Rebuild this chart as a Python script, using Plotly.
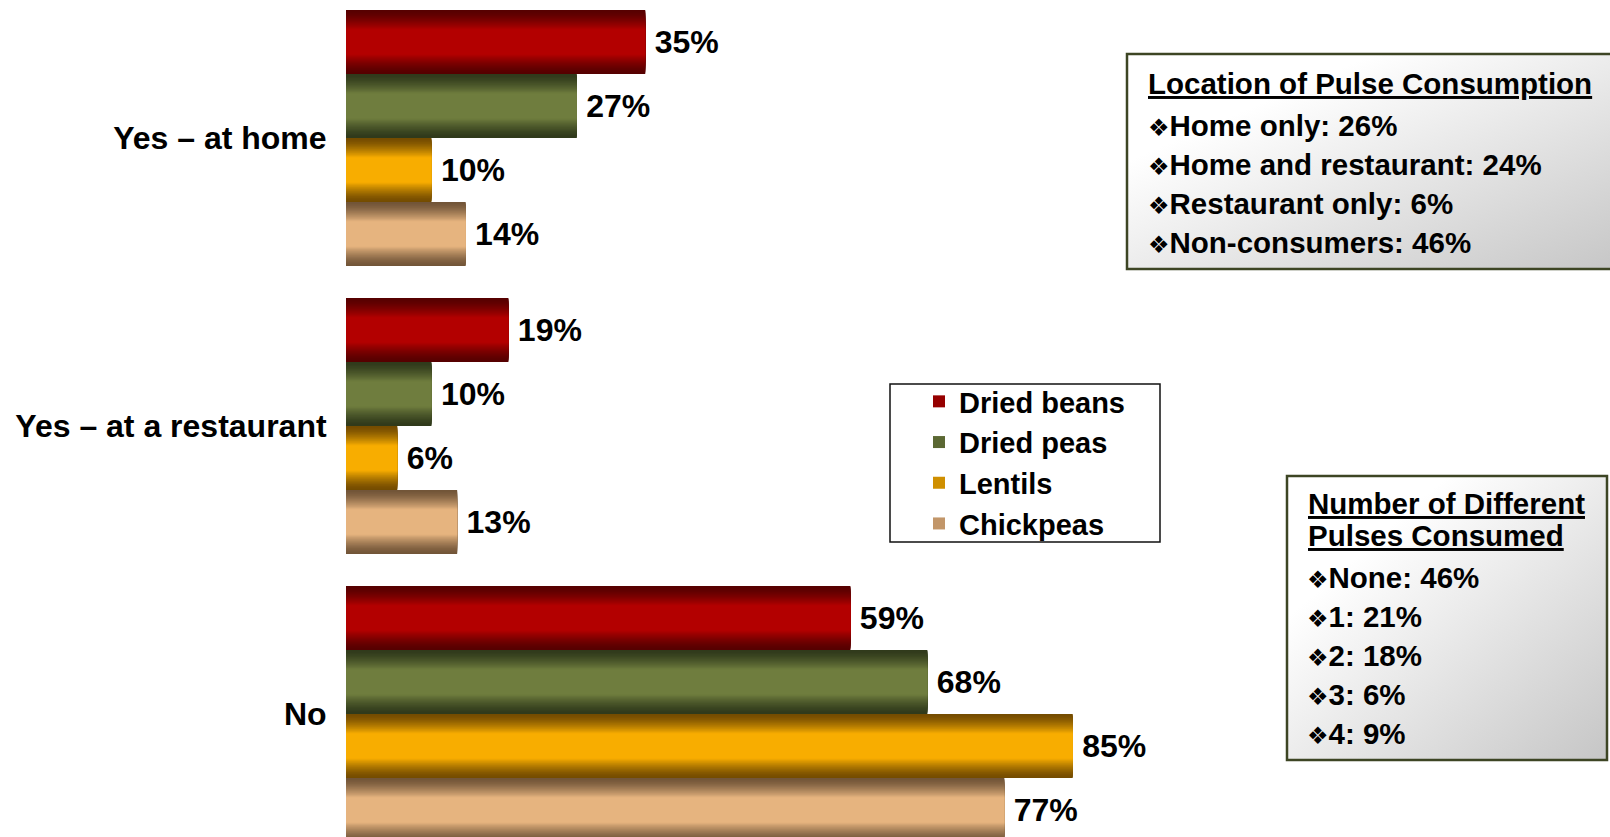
import base64
import plotly.graph_objects as go

# ---- data -------------------------------------------------------------
categories = ["Yes – at home", "Yes – at a restaurant", "No"]
series_names = ["Dried beans", "Dried peas", "Lentils", "Chickpeas"]
dried_beans = [35, 19, 59]
dried_peas = [27, 10, 68]
lentils = [10, 6, 85]
chickpeas = [14, 13, 77]
series_values = [dried_beans, dried_peas, lentils, chickpeas]

location_title = "Location of Pulse Consumption"
location_items = ["Home only: 26%", "Home and restaurant: 24%",
                  "Restaurant only: 6%", "Non-consumers: 46%"]
count_title = ["Number of Different", "Pulses Consumed"]
count_items = ["None: 46%", "1: 21%", "2: 18%", "3: 6%", "4: 9%"]

# ---- styling ------------------------------------------------------------
# (edge colour, centre colour) for the cylinder-like shading of each series
series_shades = [
    ("#560000", "#b30000"),
    ("#303a1b", "#6f7d3e"),
    ("#744c00", "#f8ad00"),
    ("#725538", "#e6b47f"),
]
FONT = "Liberation Sans, Arial, sans-serif"
W, H = 1610, 837
LEFT = 346                 # left margin (start of bars)
PX_PER_PCT = 8.55          # horizontal scale
PITCH = 288                # vertical distance between category centres
FIRST_CENTER = 138         # centre of first category
GROUP = 0.889              # fraction of pitch filled by the bar group
SLOT = GROUP / len(series_names)
N_LAYERS = 18
PLATEAU = 0.40             # fraction of bar thickness at full brightness


def hex_to_rgb(h):
    h = h.lstrip("#")
    return tuple(int(h[i:i + 2], 16) for i in (0, 2, 4))


def mix(c1, c2, t):
    a, b = hex_to_rgb(c1), hex_to_rgb(c2)
    return "rgb(%d,%d,%d)" % tuple(round(a[i] + (b[i] - a[i]) * t) for i in range(3))


def px(x):
    return (x - LEFT) / (W - LEFT)


def py(y):
    return 1 - y / H


fig = go.Figure()

for j, (name, vals, (edge, centre)) in enumerate(zip(series_names, series_values, series_shades)):
    mid = -GROUP / 2 + (j + 0.5) * SLOT
    for k in range(N_LAYERS):
        t = k / (N_LAYERS - 1)
        frac = 1 - t * (1 - PLATEAU)
        thick = frac * SLOT
        first = k == 0
        fig.add_trace(go.Bar(
            y=categories,
            x=vals,
            orientation="h",
            width=thick,
            offset=mid - thick / 2,
            marker=dict(color=mix(edge, centre, t ** 1.4), line=dict(width=0)),
            name=name,
            legendgroup=name,
            showlegend=(k == N_LAYERS - 5),
            text=["\u2009%d%%" % v for v in vals] if first else None,
            textposition="outside" if first else "none",
            textfont=dict(family=FONT, size=32, color="black", weight="bold"),
            constraintext="none",
            cliponaxis=False,
            hoverinfo="x+name" if first else "skip",
        ))

# ---- shaded text boxes ---------------------------------------------------
def gradient_svg(light="#ffffff", dark="#c6c6c6"):
    svg = (
        "<svg xmlns='http://www.w3.org/2000/svg' width='200' height='100' "
        "viewBox='0 0 200 100' preserveAspectRatio='none'>"
        "<defs><linearGradient id='g' x1='0' y1='0' x2='1' y2='1'>"
        f"<stop offset='0.25' stop-color='{light}'/>"
        f"<stop offset='1' stop-color='{dark}'/>"
        "</linearGradient></defs>"
        "<rect width='200' height='100' fill='url(#g)'/></svg>"
    )
    return "data:image/svg+xml;base64," + base64.b64encode(svg.encode()).decode()


boxes = [(1127, 54, 1622, 269), (1287, 476, 1607, 760)]
images = []
shapes = []
for (x0, y0, x1, y1) in boxes:
    images.append(dict(source=gradient_svg(), xref="paper", yref="paper",
                       x=px(x0), y=py(y0), sizex=(x1 - x0) / (W - LEFT),
                       sizey=(y1 - y0) / H, sizing="stretch",
                       xanchor="left", yanchor="top", layer="above"))
    shapes.append(dict(type="rect", xref="paper", yref="paper",
                       x0=px(x0), x1=px(x1), y0=py(y0), y1=py(y1),
                       line=dict(color="#3d4524", width=2.5), layer="above"))

# legend frame
shapes.append(dict(type="rect", xref="paper", yref="paper",
                   x0=px(890), x1=px(1160), y0=py(384), y1=py(542),
                   line=dict(color="#111111", width=1.5),
                   fillcolor="white", layer="below"))

BULLET = "<span style=\"font-family:'DejaVu Sans';font-size:24px\">❖</span>"
annotations = []


def add_line(text, x, y):
    annotations.append(dict(text=text, xref="paper", yref="paper",
                            x=px(x), y=py(y), xanchor="left", yanchor="middle",
                            showarrow=False, align="left",
                            font=dict(family=FONT, size=29.5, color="black", weight="bold")))


add_line("<u>" + location_title + "</u>", 1146, 83)
for i, item in enumerate(location_items):
    add_line(BULLET + item, 1146, 125 + 39 * i)

for i, line in enumerate(count_title):
    add_line("<u>" + line + "</u>", 1306, 503 + 32 * i)
for i, item in enumerate(count_items):
    add_line(BULLET + item, 1305, 577 + 39 * i)

fig.update_layout(
    width=W, height=H,
    margin=dict(l=LEFT, r=0, t=0, b=0),
    paper_bgcolor="white", plot_bgcolor="white",
    barmode="overlay",
    showlegend=True,
    legend=dict(x=px(919), y=py(376), xanchor="left", yanchor="top",
                bgcolor="rgba(0,0,0,0)", borderwidth=0,
                font=dict(family=FONT, size=29, color="black", weight="bold"),
                traceorder="normal"),
    xaxis=dict(range=[0, (W - LEFT) / PX_PER_PCT], visible=False, fixedrange=True),
    yaxis=dict(type="category", categoryorder="array", categoryarray=categories,
               range=[(H - FIRST_CENTER) / PITCH, -FIRST_CENTER / PITCH],
               showgrid=False, zeroline=False, showline=False,
               ticks="outside", ticklen=12, tickcolor="rgba(0,0,0,0)",
               tickfont=dict(family=FONT, size=32, color="black", weight="bold"),
               fixedrange=True),
    shapes=shapes,
    images=images,
    annotations=annotations,
)

fig.write_html("out.html")
